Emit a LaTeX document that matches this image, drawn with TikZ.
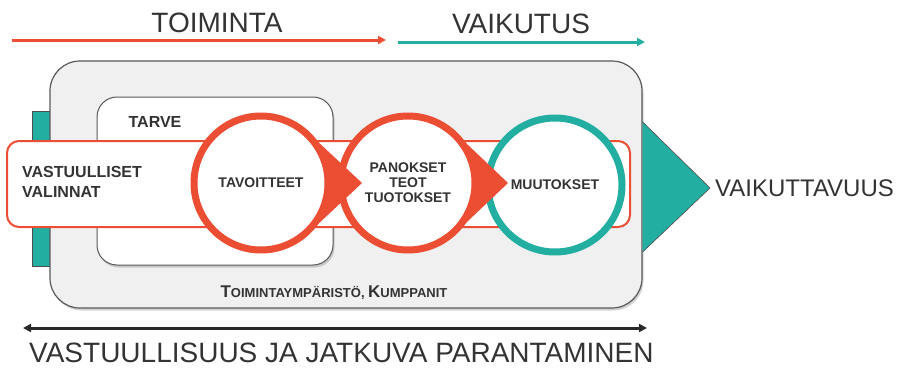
\documentclass[tikz,border=0pt]{standalone}
\usepackage{fontspec}
\setmainfont{Liberation Sans}
\usetikzlibrary{calc,shadows,arrows.meta}
\definecolor{rouge}{RGB}{236,78,52}
\definecolor{sarcelle}{RGB}{35,174,162}
\definecolor{fond}{RGB}{240,240,240}
\definecolor{texte}{RGB}{51,51,51}
\begin{document}
\begin{tikzpicture}[x=1pt,y=-1pt,
  titre/.style={font=\fontsize{28}{30}\selectfont,text=texte,inner sep=0pt},
  gras/.style={font=\bfseries\fontsize{14}{15}\selectfont,text=texte,align=center,inner sep=0pt},
  rond/.style={circle,fill=white,line width=7pt,minimum size=134pt,inner sep=0pt},
  pointe/.style={fill=rouge},
  ombre/.style={drop shadow={opacity=0.35,shadow xshift=1.5pt,shadow yshift=-2.5pt}},
  fleche/.style={line width=3pt,-{Triangle[length=8pt,width=8pt]}}]
\useasboundingbox (0,0) rectangle (902,367);
\coordinate (c1) at (261,183);
\coordinate (c2) at (408,183);
\coordinate (c3) at (555,185);
\coordinate (a1) at (12,40);
\coordinate (a2) at (386,40);
\coordinate (a3) at (398,42);
\coordinate (a4) at (645,42);
\coordinate (b1) at (23,328);
\coordinate (b2) at (647,328);
\node[titre] (toim) at (217,23) {TOIMINTA};
\node[titre] (vaiku) at (521,24) {VAIKUTUS};
\draw[fleche,rouge] (a1) -- (a2);
\draw[fleche,sarcelle] (a3) -- (a4);
\node[draw=gray!60!black,fill=sarcelle,minimum width=18pt,minimum height=155pt,inner sep=0pt] (barre) at (41,188.5) {};
\node[draw=gray!70!black,fill=fond,line width=1.2pt,rounded corners=30pt,minimum width=592pt,minimum height=247pt,ombre] (env) at (346,184.5) {};
\filldraw[fill=sarcelle,draw=gray!60!black,line width=0.6pt] (env.east |- 0,122) -- (710,188) -- (env.east |- 0,252);
\node[draw=gray!70!black,fill=white,line width=1pt,rounded corners=20pt,minimum width=236pt,minimum height=168pt,ombre] (tarve) at (215,181) {};
\node[font=\bfseries\fontsize{16}{16}\selectfont,text=texte,inner sep=0pt] at (155,122) {TARVE};
\node[draw=rouge,fill=white,line width=2pt,rounded corners=12pt,minimum width=623pt,minimum height=86pt] (valinta) at (318.5,184) {};
\node[font=\bfseries\fontsize{16}{20}\selectfont,text=texte,align=left,anchor=west,inner sep=0pt] at (22,182) {VASTUULLISET\\VALINNAT};
\node[rond,draw=sarcelle,gras] (muut) at (c3) {MUUTOKSET};
\fill[pointe] ($(c2)+(40,-57)$) -- ($(c2)+(100,0)$) -- ($(c2)+(40,57)$) -- cycle;
\node[rond,draw=rouge,gras] (panok) at (c2) {PANOKSET\\TEOT\\TUOTOKSET};
\fill[pointe] ($(c1)+(40,-57)$) -- ($(c1)+(101,0)$) -- ($(c1)+(40,57)$) -- cycle;
\node[rond,draw=rouge,gras] (tavo) at (c1) {TAVOITTEET};
\node[font=\bfseries,text=texte,inner sep=0pt] at (334,293) {{\fontsize{17}{17}\selectfont T}{\fontsize{13}{13}\selectfont OIMINTAYMPÄRISTÖ, }{\fontsize{17}{17}\selectfont K}{\fontsize{13}{13}\selectfont UMPPANIT}};
\node[font=\fontsize{24}{26}\selectfont,text=texte,anchor=west,inner sep=0pt] (vaikut) at (715,188) {VAIKUTTAVUUS};
\draw[line width=3pt,texte!80!black,{Triangle[length=8pt,width=8pt]}-{Triangle[length=8pt,width=8pt]}] (b1) -- (b2);
\node[titre,anchor=west] (jatk) at (29,353) {VASTUULLISUUS JA JATKUVA PARANTAMINEN};
\end{tikzpicture}
\end{document}
